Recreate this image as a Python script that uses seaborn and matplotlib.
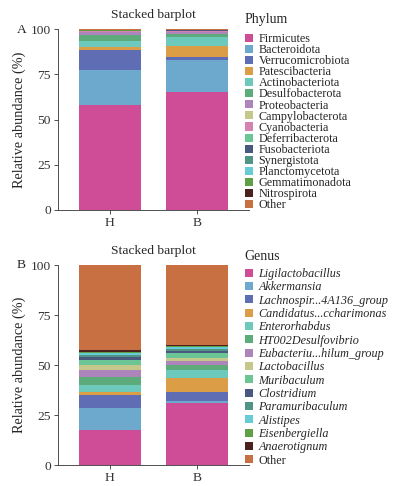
import numpy as np
import matplotlib
matplotlib.use("Agg")
import matplotlib.pyplot as plt
from matplotlib.patches import Patch
import seaborn as sns

sns.set_style("ticks")
plt.rcParams["font.family"] = ["Liberation Serif", "DejaVu Serif"]

# data (relative abundance, %)
samples = ["H", "B"]

phylum_names = ["Firmicutes", "Bacteroidota", "Verrucomicrobiota", "Patescibacteria",
                "Actinobacteriota", "Desulfobacterota", "Proteobacteria", "Campylobacterota",
                "Cyanobacteria", "Deferribacterota", "Fusobacteriota", "Synergistota",
                "Planctomycetota", "Gemmatimonadota", "Nitrospirota", "Other"]
phylum_H = [57.9, 19.6, 11.2, 1.2, 3.3, 3.5, 1.5, 0.3, 0.3, 0.2, 0.1, 0.1, 0.05, 0.05, 0.05, 0.65]
phylum_B = [65.5, 17.7, 1.3, 6.4, 4.5, 2.0, 1.0, 0.3, 0.3, 0.2, 0.1, 0.1, 0.05, 0.05, 0.05, 0.45]

genus_names = ["Ligilactobacillus", "Akkermansia", "Lachnospir...4A136_group",
               "Candidatus...ccharimonas", "Enterorhabdus", "HT002Desulfovibrio",
               "Eubacteriu...hilum_group", "Lactobacillus", "Muribaculum",
               "Clostridium", "Paramuribaculum", "Alistipes", "Eisenbergiella",
               "Anaerotignum", "Other"]
genus_H = [17.6, 11.2, 6.5, 1.3, 3.5, 3.9, 3.6, 2.6, 2.2, 1.6, 1.0, 0.9, 0.7, 1.0, 42.4]
genus_B = [31.0, 1.1, 4.7, 7.0, 3.8, 2.5, 2.0, 1.7, 2.1, 1.2, 1.0, 0.8, 0.5, 0.7, 39.9]

palette = ["#CF4D96", "#6DA9CC", "#5F6DB4", "#DB9D45", "#6CC9BB", "#5DAA7A",
           "#AE85BB", "#C6C78A", "#D682B0", "#6CC595", "#48587E", "#4F9485",
           "#66CBD6", "#5F9F45", "#4A231E", "#C87042"]
genus_colors = palette[:8] + palette[9:]

fig = plt.figure(figsize=(3.99, 4.86), dpi=100)
ax1 = fig.add_axes([0.145, 0.568, 0.479, 0.372])
ax2 = fig.add_axes([0.145, 0.0426, 0.479, 0.412])


def stacked(ax, names, h, b, colors):
    cum_h = np.cumsum(h)
    cum_b = np.cumsum(b)
    # draw cumulative bars from the top down so each layer covers the next
    for i in range(len(names) - 1, -1, -1):
        sns.barplot(x=samples, y=[cum_h[i], cum_b[i]], color=colors[i],
                    width=0.71, saturation=1, ax=ax, linewidth=0)
    ax.set_ylim(0, 100)
    ax.set_xlim(-0.6, 1.6)
    ax.set_yticks([0, 25, 50, 75, 100])
    ax.set_ylabel("Relative abundance (%)", fontsize=10.3, labelpad=3)
    ax.set_xlabel("")
    ax.set_title("Stacked barplot", fontsize=9.7, pad=8)
    ax.tick_params(labelsize=9.7, length=3, width=0.6, colors="#333333", pad=2)
    sns.despine(ax=ax)
    for s in ["left", "bottom"]:
        ax.spines[s].set_linewidth(0.6)
        ax.spines[s].set_color("#333333")


stacked(ax1, phylum_names, phylum_H, phylum_B, palette)
stacked(ax2, genus_names, genus_H, genus_B, genus_colors)

fig.text(0.042, 0.938, "A", fontsize=9.7, va="center")
fig.text(0.042, 0.455, "B", fontsize=9.7, va="center")

# legends: titles as separate text so the gap can be set
fig.text(0.612, 1 - 20 / 486, "Phylum", fontsize=10, va="center")
h1 = [Patch(facecolor=c, edgecolor="none") for c in palette]
fig.legend(h1, phylum_names, loc="upper left",
           bbox_to_anchor=(0.614, 1 - 33 / 486), frameon=False, fontsize=8.7,
           handlelength=0.66, handleheight=0.66, handletextpad=0.45,
           labelspacing=-0.075, borderaxespad=0, borderpad=0)

fig.text(0.612, 1 - 257 / 486, "Genus", fontsize=10, va="center")
h2 = [Patch(facecolor=c, edgecolor="none") for c in genus_colors]
leg2 = fig.legend(h2, genus_names, loc="upper left",
                  bbox_to_anchor=(0.614, 1 - 268 / 486), frameon=False, fontsize=8.7,
                  handlelength=0.66, handleheight=0.66, handletextpad=0.45,
                  labelspacing=0.11, borderaxespad=0, borderpad=0)
for t in leg2.get_texts():
    if t.get_text() != "Other":
        t.set_fontstyle("italic")

fig.savefig("out.png", dpi=100)
